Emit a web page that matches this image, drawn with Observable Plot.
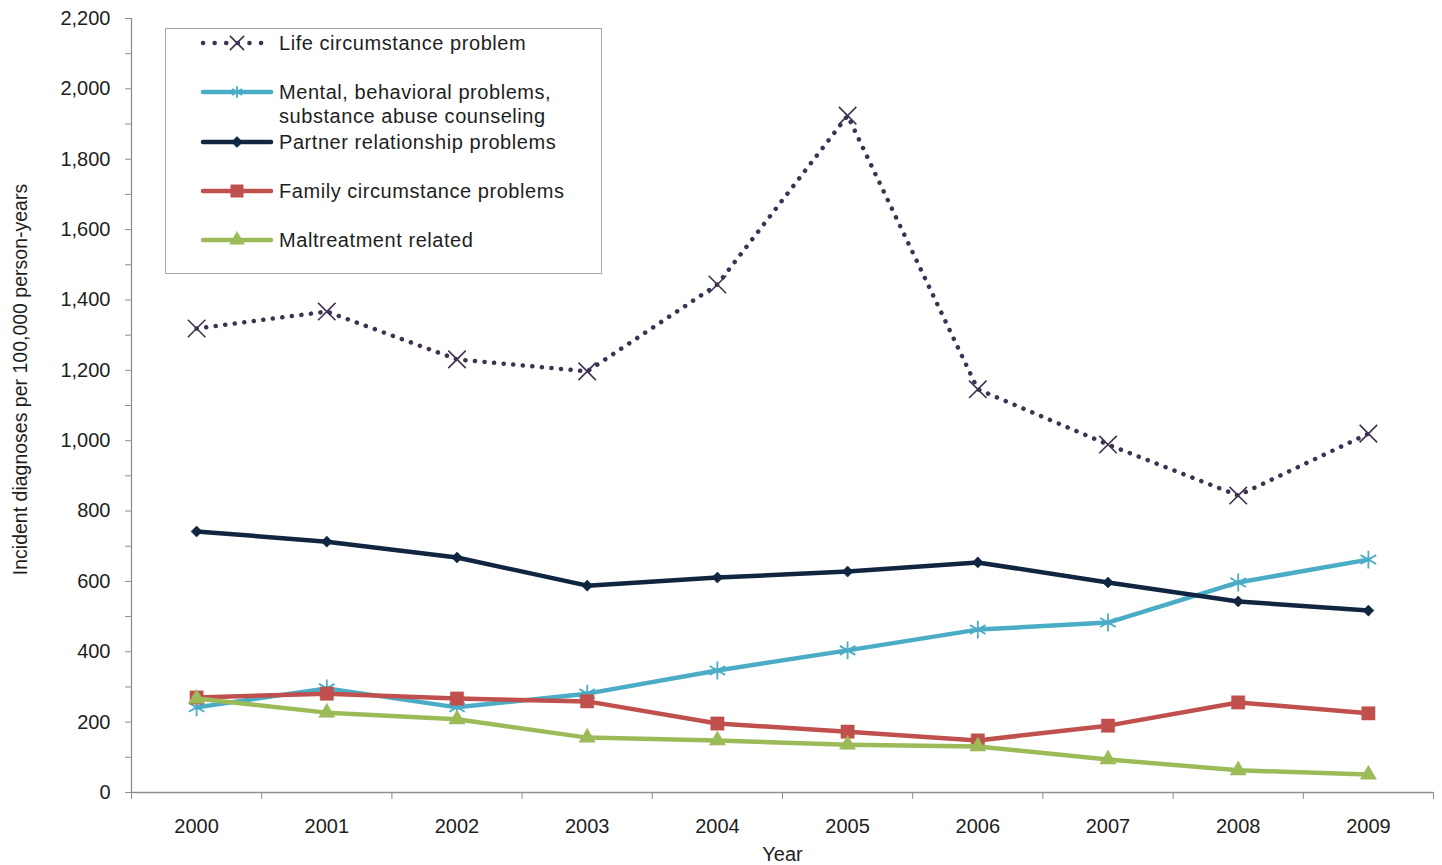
<!DOCTYPE html>
<html>
<head>
<meta charset="utf-8">
<script src="https://cdn.jsdelivr.net/npm/d3@7"></script>
<script src="https://cdn.jsdelivr.net/npm/@observablehq/plot@0.6"></script>
<style>
  html, body { margin: 0; padding: 0; background: #fff; }
  #wrap { position: relative; width: 1442px; height: 865px; font-family: "Liberation Sans", Arial, sans-serif; }
  #legend { position: absolute; left: 165px; top: 28px; width: 437px; height: 246px; border: 1px solid #a6a6a6; background: #fff; box-sizing: border-box; }
  .entry { position: absolute; left: 0; width: 100%; }
  .entry svg { position: absolute; left: 34px; }
  .entry span { position: absolute; left: 113px; font-size: 20px; letter-spacing: 0.55px; line-height: 24px; color: #1e1e1e; white-space: nowrap; }
</style>
</head>
<body>
<div id="wrap"></div>
<script>
const years = [2000, 2001, 2002, 2003, 2004, 2005, 2006, 2007, 2008, 2009];
const lifeCircumstance    = [1319, 1367, 1231, 1197, 1444, 1924, 1146, 989, 844, 1020];
const mentalBehavioral    = [242, 296, 242, 281, 347, 404, 463, 483, 597, 662];
const partnerRelationship = [742, 713, 668, 588, 611, 628, 654, 597, 543, 517];
const familyCircumstance  = [270, 281, 267, 259, 196, 173, 148, 190, 256, 225];
const maltreatment        = [267, 227, 208, 156, 148, 136, 131, 94, 63, 51];
const seriesNames = [
  "Life circumstance problem",
  "Mental, behavioral problems,\nsubstance abuse counseling",
  "Partner relationship problems",
  "Family circumstance problems",
  "Maltreatment related"
];
const yTickValues = [0,100,200,300,400,500,600,700,800,900,1000,1100,1200,1300,1400,1500,1600,1700,1800,1900,2000,2100,2200];
const yTitle = "Incident diagnoses per 100,000 person-years";
const xTitle = "Year";

const seriesValues = [lifeCircumstance, mentalBehavioral, partnerRelationship, familyCircumstance, maltreatment];
const styles = [
  {color: "#3f3151", symbol: "times", r: 8, lr: 6.5, width: 4.5, dash: "0.1 9.5", markerFill: "none", markerStroke: 1.6},
  {color: "#4bacc6", symbol: "asterisk", r: 8.5, lr: 5.5, width: 4.5, dash: null, markerFill: "none", markerStroke: 1.8},
  {color: "#10253f", symbol: "diamond2", r: 5, lr: 5, width: 4.5, dash: null, markerFill: "#10253f", markerStroke: 0},
  {color: "#c0504d", symbol: "square", r: 7.5, lr: 7, width: 4.5, dash: null, markerFill: "#c0504d", markerStroke: 0},
  {color: "#9bbb59", symbol: "triangle", r: 6, lr: 5.5, width: 4.5, dash: null, markerFill: "#9bbb59", markerStroke: 0}
];

const rows = seriesValues.map((vals, i) => years.map((yr, j) => ({year: yr, value: vals[j], series: seriesNames[i]})));
const boundaries = years.map(y => y - 0.5).concat([years[years.length - 1] + 0.5]);
const fmt = d3.format(",");

const marks = [];
marks.push(Plot.ruleX([boundaries[0]], {y1: 0, y2: 2200, stroke: "#8e8e8e", strokeWidth: 1.3}));
marks.push(Plot.ruleY([0], {stroke: "#8e8e8e", strokeWidth: 1.3}));
marks.push(Plot.axisY({ticks: yTickValues, tickSize: 6, tickPadding: 15, stroke: "#8e8e8e", fill: "#1e1e1e", tickFormat: d => d % 200 === 0 ? fmt(d) : "", label: null}));
marks.push(Plot.axisX({ticks: boundaries, tickSize: 7, stroke: "#8e8e8e", tickFormat: () => "", label: null}));
marks.push(Plot.axisX({ticks: years, tickSize: 0, tickPadding: 26, fill: "#1e1e1e", tickFormat: d => String(d), label: null}));
rows.forEach((data, i) => {
  const s = styles[i];
  marks.push(Plot.line(data, {x: "year", y: "value", stroke: s.color, strokeWidth: s.width, strokeDasharray: s.dash, strokeLinecap: "round", strokeLinejoin: "round"}));
  marks.push(Plot.dot(data, {x: "year", y: "value", symbol: () => s.symbol, r: s.r, fill: s.markerFill, stroke: s.markerFill === "none" ? s.color : s.markerFill, strokeWidth: s.markerStroke || 0.5}));
});
marks.push(Plot.text([yTitle], {frameAnchor: "left", textAnchor: "middle", rotate: -90, dx: -111, dy: -26, fill: "#1e1e1e", fontSize: 19.5}));
marks.push(Plot.text([xTitle], {frameAnchor: "bottom", dy: 68, fill: "#1e1e1e", fontSize: 20}));

const chart = Plot.plot({
  width: 1442,
  height: 865,
  marginLeft: 131,
  marginRight: 9,
  marginTop: 18,
  marginBottom: 73,
  style: {fontFamily: "Liberation Sans, Arial, sans-serif", fontSize: "20px", background: "#fff", overflow: "visible"},
  x: {type: "linear", domain: [boundaries[0], boundaries[boundaries.length - 1]]},
  y: {domain: [0, 2200]},
  symbol: {type: "identity"},
  marks
});
const wrap = document.getElementById("wrap");
wrap.appendChild(chart);

// Legend
const legend = document.createElement("div");
legend.id = "legend";
wrap.appendChild(legend);
const entryTops = [14, 63, 113, 162, 211];
seriesNames.forEach((name, i) => {
  const s = styles[i];
  const e = document.createElement("div");
  e.className = "entry";
  e.style.top = (entryTops[i] - 12) + "px";
  const svg = d3.create("svg").attr("width", 74).attr("height", 24);
  svg.append("line").attr("x1", 3).attr("x2", 71).attr("y1", 12).attr("y2", 12)
    .attr("stroke", s.color).attr("stroke-width", s.width).attr("stroke-linecap", "round")
    .attr("stroke-dasharray", s.dash ? "0.1 11.5" : null);
  const sym = {times: d3.symbolTimes, asterisk: d3.symbolAsterisk, diamond2: d3.symbolDiamond2, square: d3.symbolSquare, triangle: d3.symbolTriangle}[s.symbol];
  const rr = s.lr;
  svg.append("path").attr("transform", "translate(37,12)")
    .attr("d", d3.symbol(sym, rr * rr * Math.PI)())
    .attr("fill", s.markerFill).attr("stroke", s.markerFill === "none" ? s.color : s.markerFill)
    .attr("stroke-width", s.markerStroke || 0.5);
  e.appendChild(svg.node());
  const span = document.createElement("span");
  span.style.top = "0px";
  span.innerHTML = name.split("\n").join("<br>");
  e.appendChild(span);
  legend.appendChild(e);
});
</script>
</body>
</html>
